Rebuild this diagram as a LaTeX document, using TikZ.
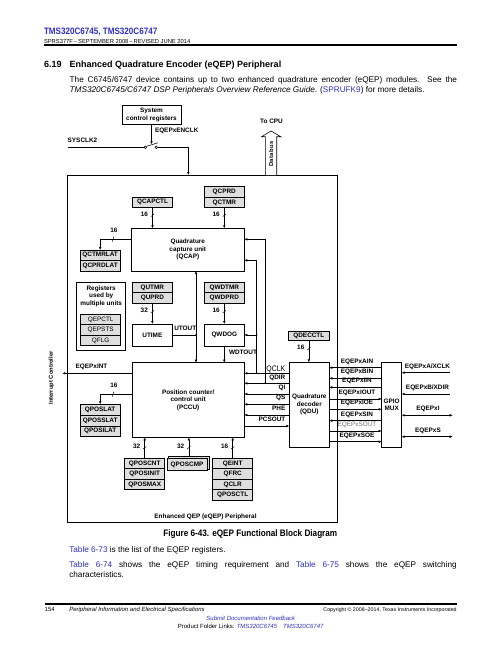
\documentclass[tikz,border=0pt]{standalone}
\usepackage{fontspec}
\setmainfont{Liberation Sans}
\newfontfamily\narrowfont[FakeStretch=0.87]{Liberation Sans}
\usetikzlibrary{arrows.meta, positioning}
\definecolor{TIBlue}{HTML}{2F2FC8}
\definecolor{RegGray}{HTML}{DEDEDE}
\newcommand{\dfont}{\fontsize{6.4}{7.5}\selectfont\bfseries}
\newcommand{\bodyfont}{\fontsize{8.2}{10}\selectfont}
\tikzset{
    every node/.style={inner sep=0pt, outer sep=0pt},
    % Register cell
    reg/.style={
        draw,
        fill=RegGray,
        line width=0.7pt,
        minimum width=40pt,
        minimum height=10.5pt,
        font=\dfont
    },
    % Functional unit
    unit/.style={
        draw,
        fill=white,
        line width=0.7pt,
        align=center,
        font=\dfont
    },
    % Signal label
    sig/.style={font=\dfont, anchor=base},
    dimsig/.style={font=\fontsize{6.4}{7.5}\selectfont, text=black!55, anchor=base},
    % Arrow style
    arrow/.style={-{Latex[length=3pt,width=2.6pt]}, line width=0.55pt},
    dblarrow/.style={{Latex[length=3pt,width=2.6pt]}-{Latex[length=3pt,width=2.6pt]}, line width=0.55pt},
    % Bus width tick
    tick/.style={line width=0.45pt},
    junction/.style={circle, fill, minimum size=1.8pt},
    contact/.style={circle, draw, fill=white, minimum size=2.6pt, line width=0.5pt}
}

\begin{document}
\begin{tikzpicture}[x=1pt, y=-1pt]
    \useasboundingbox[fill=white] (0,0) rectangle (502,649);

    % Page header
    \node (doctitle) [anchor=base west, font=\narrowfont\fontsize{9.3}{11}\selectfont\bfseries, text=TIBlue] at (44,34.3) {TMS320C6745, TMS320C6747};
    \node (docrev) [anchor=base west, font=\fontsize{5.8}{7}\selectfont] at (44,43.3) {SPRS377F\,–\,SEPTEMBER 2008\,–\,REVISED JUNE 2014};
    \draw[line width=2pt] (44,45.4) -- (457,45.4);
    \node (secnum) [anchor=base west, font=\fontsize{9}{11}\selectfont\bfseries] at (44,67.5) {6.19};
    \node (sectitle) [anchor=base west, font=\fontsize{9}{11}\selectfont\bfseries] at (69.7,67.5) {Enhanced Quadrature Encoder (eQEP) Peripheral};
    \node (intro1) [anchor=base west, font=\bodyfont] at (69.7,82.5) {\makebox[387.3pt][s]{The C6745/6747 device contains up to two enhanced quadrature encoder (eQEP) modules. See the}};
    \node (intro2) [anchor=base west, font=\bodyfont] at (69.7,92.3) {\textit{TMS320C6745/C6747 DSP Peripherals Overview Reference Guide}. (\textcolor{TIBlue}{SPRUFK9}) for more details.};

    % eQEP peripheral frame
    \node (eqep) [draw, line width=0.8pt, minimum width=270pt, minimum height=347.3pt] at (202.3,348.65) {};
    \node (eqeplbl) [sig] at (205.5,518) {Enhanced QEP (eQEP) Peripheral};

    % Clock enable
    \node (sysctl) [unit, minimum width=59pt, minimum height=19.3pt] at (151.5,114.7) {System\\control registers};
    \node (swl) [contact] at (145.3,147.3) {};
    \node (swr) [contact] at (156.3,147.3) {};
    \coordinate (sysclk) at (67.7,147.3);
    \coordinate (swtip) at (151.5,144.3);
    \coordinate (clkin) at (188.3,175);
    \draw[line width=0.55pt] (sysclk) -- (swl);
    \draw[line width=0.55pt] (swl.north east) -- (157.8,142.8);
    \draw[arrow] (sysctl) -- (swtip);
    \draw[arrow] (swr) -| (clkin);
    \node (sysclklbl) [sig, anchor=base west] at (67.7,142.3) {SYSCLK2};
    \node (enclklbl) [sig, anchor=base west] at (155,132.7) {EQEPxENCLK};

    % Data bus to CPU
    \draw[line width=0.6pt, fill=white] (265.3,175) -- (265.3,136.7) -- (261.7,136.7) -- (271,131) -- (280.7,136.7) -- (276.7,136.7) -- (276.7,175);
    \node (databus) [font=\fontsize{5.8}{7}\selectfont\bfseries, rotate=90] at (271,154) {Data bus};
    \node (tocpu) [sig] at (271.5,123.7) {To CPU};

    % Capture unit
    \node (qcapctl) [reg, minimum height=10.3pt] at (152.5,202.15) {QCAPCTL};
    \node (qcprd) [reg] at (224.3,191.95) {QCPRD};
    \node (qctmr) [reg, below=0pt of qcprd] {QCTMR};
    \node (qcap) [unit, minimum width=113pt, minimum height=42.7pt] at (187.8,249.65) {Quadrature\\capture unit\\(QCAP)};
    \node (qctmrlat) [reg] at (100.15,255.25) {QCTMRLAT};
    \node (qcprdlat) [reg, below=0pt of qctmrlat] {QCPRDLAT};

    % Shared registers
    \node (multi) [draw, line width=0.7pt, minimum width=49pt, minimum height=67.7pt] at (101.2,316.15) {};
    \node (multilbl) [font=\dfont, align=center, anchor=north] at (101.2,285.7) {Registers\\used by\\multiple units};
    \node (qepctl) [reg, font=\fontsize{6.4}{7.5}\selectfont] at (100.7,319.55) {QEPCTL};
    \node (qepsts) [reg, font=\fontsize{6.4}{7.5}\selectfont, below=0pt of qepctl] {QEPSTS};
    \node (qflg) [reg, font=\fontsize{6.4}{7.5}\selectfont, below=0pt of qepsts] {QFLG};

    % Timers
    \node (qutmr) [reg] at (152.35,287.55) {QUTMR};
    \node (quprd) [reg, below=0pt of qutmr] {QUPRD};
    \node (qwdtmr) [reg] at (224.3,287.55) {QWDTMR};
    \node (qwdprd) [reg, below=0pt of qwdtmr] {QWDPRD};
    \node (utime) [unit, minimum width=40.7pt, minimum height=22pt] at (152.35,335) {UTIME};
    \node (qwdog) [unit, minimum width=40pt, minimum height=22pt] at (224.3,335) {QWDOG};

    % Position counter
    \node (pccu) [unit, minimum width=112.3pt, minimum height=74.6pt] at (188.15,400) {Position counter/\\control unit\\(PCCU)};
    \node (qposlat) [reg, minimum height=10.8pt] at (100.15,409.7) {QPOSLAT};
    \node (qposslat) [reg, minimum height=10.8pt, below=0pt of qposlat] {QPOSSLAT};
    \node (qposilat) [reg, minimum height=10.8pt, below=0pt of qposslat] {QPOSILAT};
    \node (qposcnt) [reg] at (144.7,463.55) {QPOSCNT};
    \node (qposinit) [reg, below=0pt of qposcnt] {QPOSINIT};
    \node (qposmax) [reg, below=0pt of qposinit] {QPOSMAX};
    \node (qposcmpbk) [reg, minimum width=40.3pt, minimum height=12.3pt] at (188.8,462.9) {};
    \node (qposcmp) [reg, minimum width=40.3pt, minimum height=12.3pt] at (187.1,464.5) {QPOSCMP};
    \node (qeint) [reg] at (232.7,463.55) {QEINT};
    \node (qfrc) [reg, below=0pt of qeint] {QFRC};
    \node (qclr) [reg, below=0pt of qfrc] {QCLR};
    \node (qposctl) [reg, below=0pt of qclr] {QPOSCTL};

    % Decoder and pin mux
    \node (qdecctl) [reg, minimum width=40.3pt, minimum height=9.3pt] at (308.85,335.65) {QDECCTL};
    \node (qdu) [unit, minimum width=40pt, minimum height=85pt] at (309.3,404.8) {Quadrature\\decoder\\(QDU)};
    \node (gpio) [unit, minimum width=20pt, minimum height=85pt] at (391.7,404.8) {GPIO\\MUX};

    % Register to unit buses
    \draw[arrow] (qcapctl) -- (qcapctl |- qcap.north);
    \draw[arrow] (qctmr) -- (qctmr |- qcap.north);
    \draw[arrow] (quprd) -- (utime);
    \draw[arrow] (qwdprd) -- (qwdog);
    \draw[arrow] (qdecctl) -- (qdecctl |- qdu.north);
    \draw[arrow] (qposcnt) -- (qposcnt |- pccu.south);
    \draw[arrow] (qposcmpbk) -- (qposcmpbk |- pccu.south);
    \draw[arrow] (qeint) -- (qeint |- pccu.south);
    \foreach \x/\y/\w in {152.5/214.3/16, 224.3/214.3/16, 152.35/310.7/32, 224.3/310.7/16,
                          308.85/347.7/16, 144.7/446.7/32, 188.8/446.7/32, 232.7/446.7/16} {
        \draw[tick] (\x-1.6,\y+2.3) -- (\x+1.6,\y-0.3);
        \node[font=\dfont, anchor=east] at (\x-4.5,\y) {\w};
    }

    % Latch outputs
    \coordinate (y-lat) at (0,239.3);
    \coordinate (y-plat) at (0,394.3);
    \draw[arrow] (qcap.west |- y-lat) -| (qctmrlat.north);
    \draw[arrow] (pccu.west |- y-plat) -| (qposlat.north);
    \foreach \y in {239.3, 394.3} {
        \draw[tick] (112.2,\y+2.4) -- (113.8,\y-2.6);
        \node[font=\dfont, anchor=base] at (114,\y-7) {16};
    }

    % Timer outputs
    \coordinate (jut) at (196,335);
    \draw[line width=0.55pt] (utime.east) -- (jut);
    \draw[arrow] (jut) -- (jut |- qcap.south);
    \draw[arrow] (jut) -- (jut |- pccu.north);
    \node[junction] at (jut) {};
    \draw[arrow] (qwdog) -- (qwdog |- pccu.north);
    \node (utoutlbl) [sig, anchor=base west] at (174.3,330.7) {UTOUT};
    \node (wdtoutlbl) [sig, anchor=base west] at (229,354) {WDTOUT};

    % Interrupt
    \coordinate (intc) at (62.3,373.3);
    \draw[arrow] (pccu.west |- intc) -- (intc);
    \node (intlbl) [sig, anchor=base west] at (75.7,368.7) {EQEPxINT};
    \node (intctl) [font=\fontsize{5.8}{7}\selectfont\bfseries, rotate=90] at (51.5,378) {Interrupt Controller};

    % QDU to PCCU
    \coordinate (jclk) at (256.7,373.3);
    \coordinate (jdir) at (265,383.3);
    \coordinate (y-capclk) at (0,260.3);
    \draw[arrow] (qdu.west |- jclk) -- (pccu.east |- jclk);
    \draw[arrow] (jclk) |- (qcap.east |- y-capclk);
    \draw[arrow] (jclk |- qwdog.east) -- (qwdog.east);
    \draw[arrow] (qdu.west |- jdir) -- (pccu.east |- jdir);
    \draw[arrow] (jdir) |- (qcap.east |- y-lat);
    \node[junction] at (jclk) {};
    \node[junction] at (jclk |- qwdog.east) {};
    \node[junction] at (jdir) {};
    \node (qclklbl) [anchor=base east, font=\narrowfont\fontsize{8}{9}\selectfont] at (285.3,371.5) {QCLK};
    \node (qdirlbl) [sig, anchor=base east] at (285.3,379) {QDIR};
    \foreach \name/\y in {QI/394, QS/404.3, PHE/415} {
        \coordinate (r) at (0,\y);
        \draw[arrow] (qdu.west |- r) -- (pccu.east |- r);
        \node[sig, anchor=base east] at (285.3,\y-4.8) {\name};
    }
    \coordinate (y-pcs) at (0,426);
    \draw[arrow] (pccu.east |- y-pcs) -- (qdu.west |- y-pcs);
    \node (pcslbl) [sig, anchor=base east] at (285.3,421.7) {PCSOUT};

    % QDU to GPIO MUX
    \foreach \name/\y in {EQEPxAIN/367.7, EQEPxBIN/378.3, EQEPxIIN/387.3, EQEPxSIN/420.7} {
        \coordinate (r) at (0,\y);
        \draw[arrow] (gpio.west |- r) -- (qdu.east |- r);
        \node[sig] at (357,\y-4.6) {\name};
    }
    \foreach \name/\y/\st in {EQEPxIOUT/399/sig, EQEPxIOE/409.3/sig, EQEPxSOUT/431/dimsig, EQEPxSOE/441.7/sig} {
        \coordinate (r) at (0,\y);
        \draw[arrow] (qdu.east |- r) -- (gpio.west |- r);
        \node[\st] at (357,\y-4.6) {\name};
    }

    % Device pins
    \coordinate (pinA) at (450,372.7);
    \coordinate (pinB) at (450,394);
    \coordinate (pinI) at (452.7,415.3);
    \coordinate (pinS) at (452.7,436.7);
    \draw[arrow] (pinA) -- (gpio.east |- pinA);
    \draw[arrow] (pinB) -- (gpio.east |- pinB);
    \draw[dblarrow] (gpio.east |- pinI) -- (pinI);
    \draw[dblarrow] (gpio.east |- pinS) -- (pinS);
    \node (pinAlbl) [sig] at (427.5,368) {EQEPxA/XCLK};
    \node (pinBlbl) [sig] at (427.5,389.3) {EQEPxB/XDIR};
    \node (pinIlbl) [sig] at (428,410.7) {EQEPxI};
    \node (pinSlbl) [sig] at (428,432) {EQEPxS};

    % Caption and text
    \node (caption) [anchor=base, font=\narrowfont\fontsize{9.4}{11}\selectfont\bfseries] at (250.3,536.5) {Figure 6-43. eQEP Functional Block Diagram};
    \node (tab1) [anchor=base west, font=\bodyfont] at (69.3,552.7) {\textcolor{TIBlue}{Table 6-73} is the list of the EQEP registers.};
    \node (tab2) [anchor=base west, font=\bodyfont] at (69.3,567.5) {\makebox[387.4pt][s]{\textcolor{TIBlue}{Table 6-74} shows the eQEP timing requirement and \textcolor{TIBlue}{Table 6-75} shows the eQEP switching}};
    \node (tab3) [anchor=base west, font=\bodyfont] at (69.3,577.5) {characteristics.};

    % Page footer
    \draw[line width=1.8pt] (44.7,604.2) -- (456.7,604.2);
    \node (pagenum) [anchor=base west, font=\fontsize{6}{7}\selectfont] at (44.7,611.3) {154};
    \node (footsec) [anchor=base west, font=\fontsize{6}{7}\selectfont\itshape] at (69.3,611.3) {Peripheral Information and Electrical Specifications};
    \node (copyright) [anchor=base east, font=\fontsize{5.3}{6}\selectfont] at (456.7,611.3) {Copyright © 2008–2014, Texas Instruments Incorporated};
    \node (feedback) [anchor=base, font=\fontsize{6}{7}\selectfont\itshape, text=TIBlue] at (250.8,620.5) {Submit Documentation Feedback};
    \node (folder) [anchor=base, font=\fontsize{6}{7}\selectfont] at (250.7,628.7) {Product Folder Links: \textcolor{TIBlue}{\itshape TMS320C6745}\quad\textcolor{TIBlue}{\itshape TMS320C6747}};
\end{tikzpicture}
\end{document}
